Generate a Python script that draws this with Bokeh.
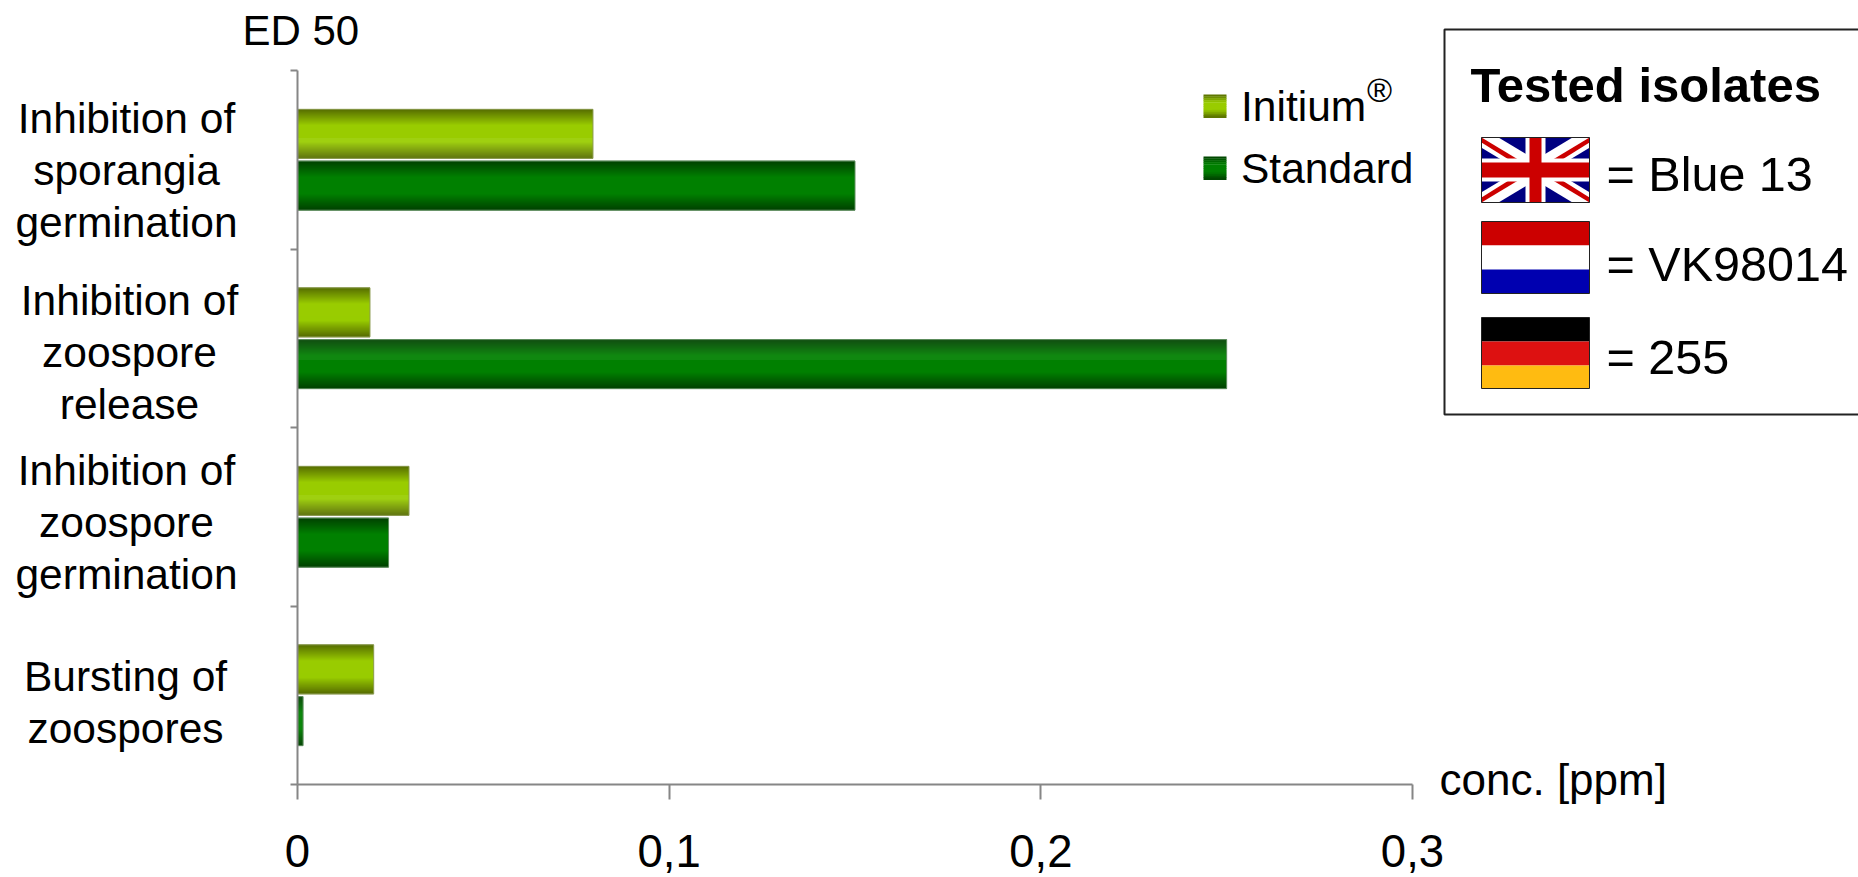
from bokeh.plotting import figure
from bokeh.models import (Range1d, FixedTicker, ColumnDataSource, Legend, LegendItem, Label,
                          BoxAnnotation, PolyAnnotation)
from bokeh.core.properties import value
from bokeh.embed import file_html
from bokeh.resources import INLINE

categories = ["Inhibition of\nsporangia\ngermination", "Inhibition of\nzoospore\nrelease",
              "Inhibition of\nzoospore\ngermination", "Bursting of\nzoospores"]
initium = [0.0795, 0.0195, 0.03, 0.0205]
standard = [0.15, 0.25, 0.0245, 0.0015]
x_ticks = [0, 0.1, 0.2, 0.3]
x_labels = ["0", "0,1", "0,2", "0,3"]
series_names = ["Initium", "Standard"]

FONT = "Liberation Sans"
W, H = 1858, 877
X0, X1, Y0, Y1 = 297, 1412, 70, 784   # axes extent in page pixels
XMAX, NCAT = 0.3, len(categories)

def X(px): return (px - X0) / (X1 - X0) * XMAX
def Y(px): return (px - Y0) / (Y1 - Y0) * NCAT

p = figure(width=W, height=H, output_backend="svg", toolbar_location=None,
           x_range=Range1d(X(0), X(W)), y_range=Range1d(Y(H), Y(0)),
           min_border=0, outline_line_color=None,
           background_fill_color="white", border_fill_color="white")
p.grid.visible = False

AXIS = "#868686"
xa = p.xaxis[0]
xa.fixed_location = NCAT
xa.bounds = (0, XMAX)
xa.ticker = FixedTicker(ticks=x_ticks)
xa.major_label_overrides = dict(zip(x_ticks, x_labels))
xa.axis_line_color = AXIS; xa.axis_line_width = 2
xa.major_tick_line_color = AXIS; xa.major_tick_line_width = 2
xa.major_tick_in = 0; xa.major_tick_out = 15
xa.minor_tick_line_color = None
xa.major_label_standoff = 35
xa.major_label_text_font = FONT; xa.major_label_text_font_size = "45.5px"; xa.major_label_text_color = "black"

ya = p.yaxis[0]
ya.fixed_location = 0
ya.bounds = (0, NCAT)
ya.ticker = FixedTicker(ticks=list(range(NCAT + 1)))
ya.major_label_overrides = {i: "" for i in range(NCAT + 1)}
ya.axis_line_color = AXIS; ya.axis_line_width = 2
ya.major_tick_line_color = AXIS; ya.major_tick_line_width = 2
ya.major_tick_in = 0; ya.major_tick_out = 7
ya.minor_tick_line_color = None

# category names, centred line by line like the reference
p.text(x=[X(126), X(129), X(126), X(125)], y=[Y(170), Y(352), Y(522), Y(702)], text=categories,
       text_font=value(FONT), text_font_size=value("42.5px"), text_color="black",
       text_align="center", text_baseline="middle", text_line_height=1.1)

def mix(a, b, t):
    return "#%02x%02x%02x" % tuple(round(a[i] + (b[i] - a[i]) * t) for i in range(3))

DARK_I, MID_I = (0x55, 0x6b, 0x00), (0x99, 0xcc, 0x00)
DARK_S, MID_S = (0x00, 0x40, 0x00), (0x00, 0x80, 0x00)
BAR_H, OFFSET, N = 0.275, 0.145, 49

def ramp(dark, mid, n=N):
    out = []
    for k in range(n):
        t = 1 - abs((k + 0.5) / n - 0.5) * 2
        out.append(mix(dark, mid, min(1, t * 1.5)))
    return out

def draw(values, off, dark, mid, outline):
    ys, rights, colors = [], [], []
    shades = ramp(dark, mid)
    for i, v in enumerate(values):
        for k in range(N):
            ys.append(i + 0.5 + off + ((k + 0.5) / N - 0.5) * BAR_H)
            rights.append(v)
            colors.append(shades[k])
    src = ColumnDataSource(dict(y=ys, right=rights, color=colors))
    r = p.hbar(y="y", right="right", left=0, height=BAR_H / N * 1.5, source=src,
               fill_color="color", line_color=None)
    src2 = ColumnDataSource(dict(y=[i + 0.5 + off for i in range(len(values))], right=values))
    p.hbar(y="y", right="right", left=0, height=BAR_H, source=src2, fill_color=None,
           line_color=outline, line_width=1)
    return r

r1 = draw(initium, -OFFSET, DARK_I, MID_I, "#8c9c52")
r2 = draw(standard, OFFSET, DARK_S, MID_S, "#5f8f5f")

legend = Legend(items=[LegendItem(label=series_names[0], renderers=[r1], index=N // 2),
                       LegendItem(label=series_names[1], renderers=[r2], index=N // 2)],
                location=(1206, H - 193), orientation="vertical",
                background_fill_alpha=0, border_line_color=None,
                glyph_width=6, glyph_height=6, label_standoff=29, spacing=14,
                padding=14, margin=0,
                label_text_font=FONT, label_text_font_size="42.5px", label_text_color="black")
p.add_layout(legend, "center")

def box(l, t, r, b, fill, line=None, lw=1):
    p.add_layout(BoxAnnotation(left=X(l), right=X(r), top=Y(t), bottom=Y(b),
                               fill_color=fill, fill_alpha=1 if fill else 0,
                               line_color=line, line_width=lw, line_alpha=1 if line else 0))

def poly(pts, fill):
    p.add_layout(PolyAnnotation(xs=[X(a) for a, _ in pts], ys=[Y(b) for _, b in pts],
                                fill_color=fill, fill_alpha=1, line_color=None))

def label(txt, x, y, size, style="normal", color="black"):
    lift = 0.32 * float(size.replace("px", ""))
    p.add_layout(Label(x=X(x), y=Y(y - lift), text=txt, text_font=FONT, text_font_size=size,
                       text_font_style=style, text_color=color,
                       text_baseline="alphabetic", text_align="left"))

# gradient swatches above the legend keys
for (t, dark, mid) in [(94, DARK_I, MID_I), (156, DARK_S, MID_S)]:
    for k, c in enumerate(ramp(dark, mid, 12)):
        box(1203, t + k * 23 / 12, 1226, t + (k + 1.2) * 23 / 12, c)

label("\u00ae", 1366, 100, "34px", "italic")
label("ED 50", 242, 43, "42px")
label("conc. [ppm]", 1439, 793, "44px")

# isolates box
box(1444, 29, 1900, 414, None, "#222222", 2)
label("Tested isolates", 1470, 100, "49px", "bold")

L, R, T, B = 1481, 1589, 137, 202
w, h = R - L, B - T
box(L, T, R, B, "#000080")
kk = h / w
def diag(a, b):
    poly([(L, T), (L + a, T), (R, B - a * kk), (R, B), (R - b, B), (L, T + b * kk)], "white")
def diag2(a, b):
    poly([(R, T), (R - a, T), (L, B - a * kk), (L, B), (L + b, B), (R, T + b * kk)], "white")
diag(17, 17); diag2(17, 17)
poly([(L, T), (L + w / 2, T + h / 2), (L + w / 2 - 10, T + h / 2), (L, T + 5)], "#cc0000")
poly([(R, B), (L + w / 2, T + h / 2), (L + w / 2 + 10, T + h / 2), (R, B - 5)], "#cc0000")
poly([(R, T), (L + w / 2, T + h / 2), (L + w / 2 + 10, T + h / 2), (R, T + 5)], "#cc0000")
poly([(L, B), (L + w / 2, T + h / 2), (L + w / 2 - 10, T + h / 2), (L, B - 5)], "#cc0000")
box(L + 44, T, R - 44, B, "white")
box(L, T + 21, R, B - 21, "white")
box(L + 48, T, R - 48, B, "#cc0000")
box(L, T + 25, R, B - 25, "#cc0000")
box(L, T, R, B, None, "#222222", 1)

for top, bot, mid1, mid2, cols in [(221, 293, 245, 269, ("#cc0000", "white", "#0000b0")),
                                   (317, 388, 341, 365, ("black", "#dd1111", "#ffbb11"))]:
    box(1481, top, 1589, mid1, cols[0])
    box(1481, mid1, 1589, mid2, cols[1])
    box(1481, mid2, 1589, bot, cols[2])
    box(1481, top, 1589, bot, None, "#222222", 1)

label("= Blue 13", 1606, 189, "48.5px")
label("= VK98014", 1606, 279, "48.5px")
label("= 255", 1606, 372, "48.5px")

open("out.html", "w").write(file_html(p, INLINE))
